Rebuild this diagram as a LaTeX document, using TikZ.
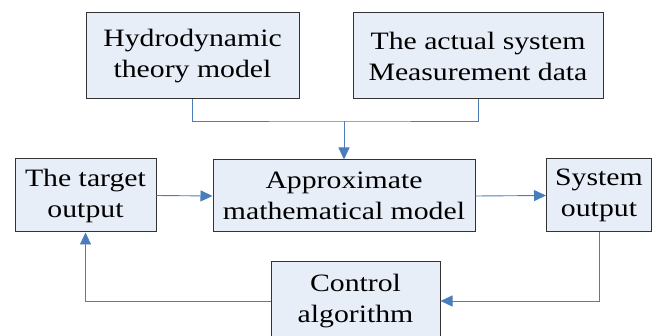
\documentclass[tikz,border=0pt]{standalone}
\usepackage{fontspec}
\usepackage{xcolor}
\usetikzlibrary{arrows.meta, positioning}
\newfontfamily\boxfont[FakeStretch=1.19]{Liberation Serif}
\definecolor{boxfill}{HTML}{E8EEF8}
\definecolor{linkblue}{HTML}{4A7EBB}

\begin{document}
\begin{tikzpicture}[
    x=1pt, y=1pt,
    box/.style={rectangle, draw=black!80, line width=1pt, fill=boxfill, align=center, inner sep=0pt, font=\boxfont\fontsize{25}{31}\selectfont},
    arrow/.style={-{Triangle[length=12pt, width=11pt]}, draw=linkblue, line width=0.9pt},
    link/.style={draw=linkblue, line width=0.9pt}
]
\useasboundingbox (0,0) rectangle (653,-336);

\node[box, minimum width=213pt, minimum height=86pt] (hydro) at (192.5,-56) {Hydrodynamic\\theory model};
\node[box, minimum width=250pt, minimum height=86pt] (actual) at (478,-56) {The actual system\\Measurement data};
\node[box, minimum width=262pt, minimum height=72pt] (approx) at (344,-196) {Approximate\\mathematical model};
\node[box, minimum width=141pt, minimum height=73pt] (target) at (85.5,-195.5) {The target\\output};
\node[box, minimum width=105pt, minimum height=73pt] (system) at (599,-195.5) {System\\output};
\node[box, minimum width=169pt, minimum height=78pt] (control) at (355.5,-301) {Control\\algorithm};

\coordinate (join) at (approx.north |- 0,-121);

\draw[link] (hydro.south) |- (join) -| (actual.south);
\draw[arrow] (join) -- (approx.north);
\draw[arrow] (target.east) -- (approx.west);
\draw[arrow] (approx.east) -- (system.west);
\draw[arrow] (system.south) |- (control.east);
\draw[arrow] (control.west) -| (target.south);
\end{tikzpicture}
\end{document}
